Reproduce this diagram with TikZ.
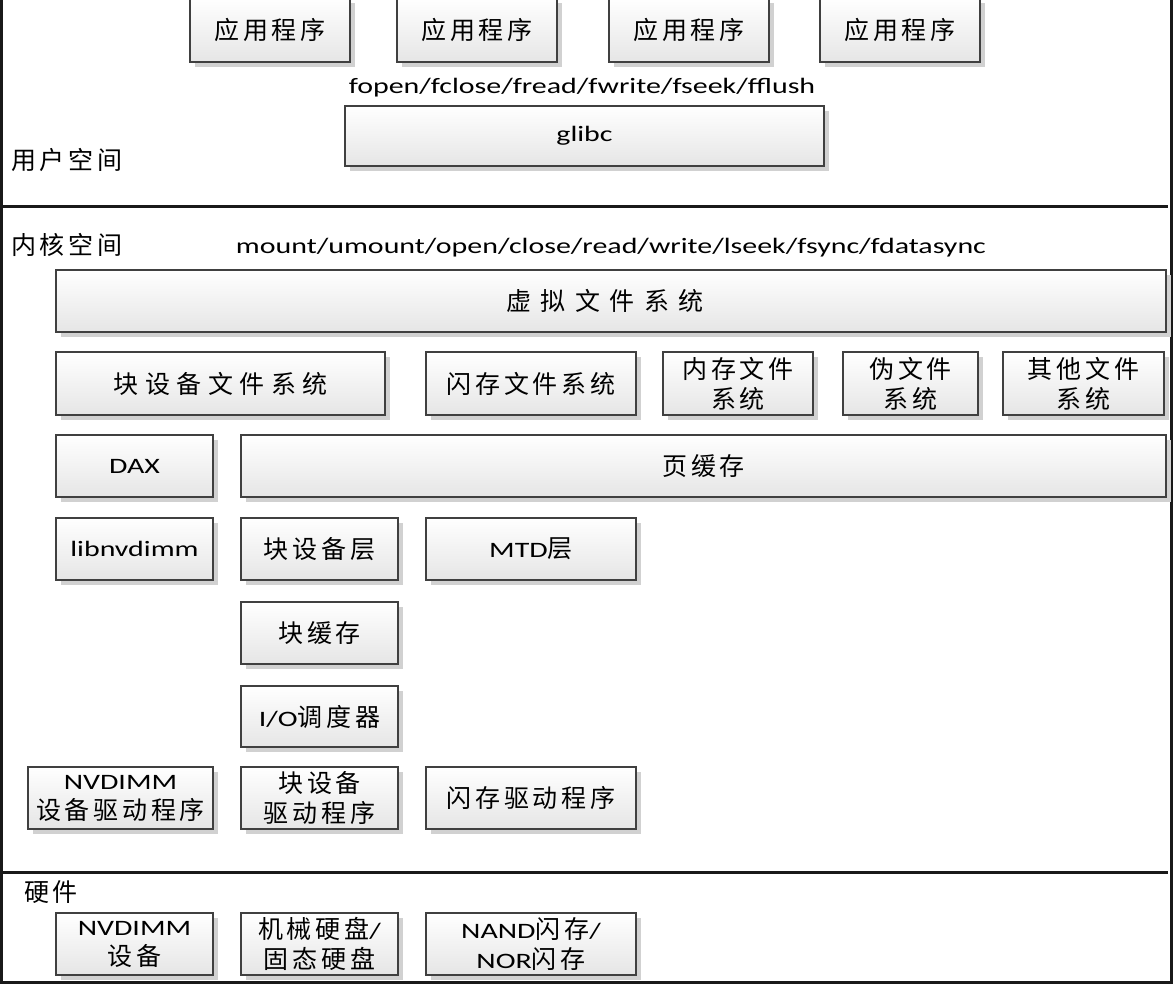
\documentclass[tikz,border=0pt]{standalone}
\usepackage{fontspec}
\setmainfont[FakeStretch=1.36]{Carlito}
\newfontfamily\cjk[LetterSpace=15]{Noto Sans CJK SC}
\usetikzlibrary{shadows}
\tikzset{
  blk/.style={draw=black!75, line width=1.3pt, top color=white, bottom color=black!10,
    drop shadow={shadow xshift=5pt, shadow yshift=-5pt, fill=black!18, opacity=1},
    inner sep=0pt, align=center, font=\fontsize{22}{30}\selectfont},
  lbl/.style={font=\fontsize{22}{26}\selectfont, inner sep=0pt},
  sep/.style={line width=3pt, black!90}
}
\newcommand{\zh}[1]{{\cjk\fontsize{25}{30}\selectfont #1}}
\begin{document}
\begin{tikzpicture}[x=1pt,y=-1pt]
\useasboundingbox (0,0) rectangle (1173,984);
% frame and layer borders
\draw[sep] (1.5,-10) -- (1.5,982) -- (1171.5,982) -- (1171.5,-10);
\draw[sep] (0,207) -- (1168,207);
\draw[sep] (0,872.5) -- (1168,872.5);
% user space
\node[blk, minimum width=160, minimum height=64] (app1) at (270,30) {\zh{应用程序}};
\node[blk, minimum width=160, minimum height=64] (app2) at (477,30) {\zh{应用程序}};
\node[blk, minimum width=160, minimum height=64] (app3) at (689,30) {\zh{应用程序}};
\node[blk, minimum width=160, minimum height=64] (app4) at (900,30) {\zh{应用程序}};
\node[lbl] (libcalls) at (582,88) {fopen/fclose/fread/fwrite/fseek/fflush};
\node[blk, minimum width=479, minimum height=60] (glibc) at (584.5,136) {glibc};
\node[lbl, anchor=west] (user) at (11,160) {\zh{用户空间}};
% kernel space
\node[lbl, anchor=west] (kernel) at (11,245) {\zh{内核空间}};
\node[lbl] (syscalls) at (611,248) {mount/umount/open/close/read/write/lseek/fsync/fdatasync};
\node[blk, minimum width=1110, minimum height=62] (vfs) at (611,301) {\hspace{-12pt}\zh{\addfontfeature{LetterSpace=38}虚拟文件系统}};
\node[blk, minimum width=329, minimum height=63] (blkfs) at (220.5,383.5) {\zh{\addfontfeature{LetterSpace=26}块设备文件系统}};
\node[blk, minimum width=210, minimum height=63] (flashfs) at (531,383.5) {\zh{闪存文件系统}};
\node[blk, minimum width=150, minimum height=63] (memfs) at (738,383.5) {\zh{内存文件}\\\zh{系统}};
\node[blk, minimum width=135, minimum height=63] (pseudofs) at (910.5,383.5) {\zh{伪文件}\\\zh{系统}};
\node[blk, minimum width=161, minimum height=63] (otherfs) at (1083.5,383.5) {\zh{其他文件}\\\zh{系统}};
\node[blk, minimum width=157, minimum height=62] (dax) at (134.5,466) {DAX};
\node[blk, minimum width=925, minimum height=62] (pagecache) at (703.5,466) {\zh{页缓存}};
\node[blk, minimum width=157, minimum height=62] (libnvdimm) at (134.5,549) {libnvdimm};
\node[blk, minimum width=157, minimum height=62] (blklayer) at (319.5,549) {\zh{块设备层}};
\node[blk, minimum width=210, minimum height=62] (mtd) at (531,549) {MTD\zh{层}};
\node[blk, minimum width=157, minimum height=62] (blkcache) at (319.5,633) {\zh{块缓存}};
\node[blk, minimum width=157, minimum height=61] (iosched) at (319.5,716.5) {I/O\zh{调度器}};
\node[blk, minimum width=185, minimum height=62] (nvdrv) at (120.5,798) {NVDIMM\\\zh{设备驱动程序}};
\node[blk, minimum width=157, minimum height=62] (blkdrv) at (319.5,798) {\zh{块设备}\\\zh{驱动程序}};
\node[blk, minimum width=210, minimum height=62] (flashdrv) at (531,798) {\zh{闪存驱动程序}};
% hardware
\node[lbl, anchor=west] (hw) at (24,892) {\zh{硬件}};
\node[blk, minimum width=157, minimum height=62] (nvdev) at (134.5,944) {NVDIMM\\\zh{设备}};
\node[blk, minimum width=157, minimum height=62] (disk) at (319.5,944) {\zh{机械硬盘}/\\\zh{固态硬盘}};
\node[blk, minimum width=210, minimum height=62] (nand) at (531,944) {NAND\zh{闪存}/\\NOR\zh{闪存}};
\end{tikzpicture}
\end{document}
